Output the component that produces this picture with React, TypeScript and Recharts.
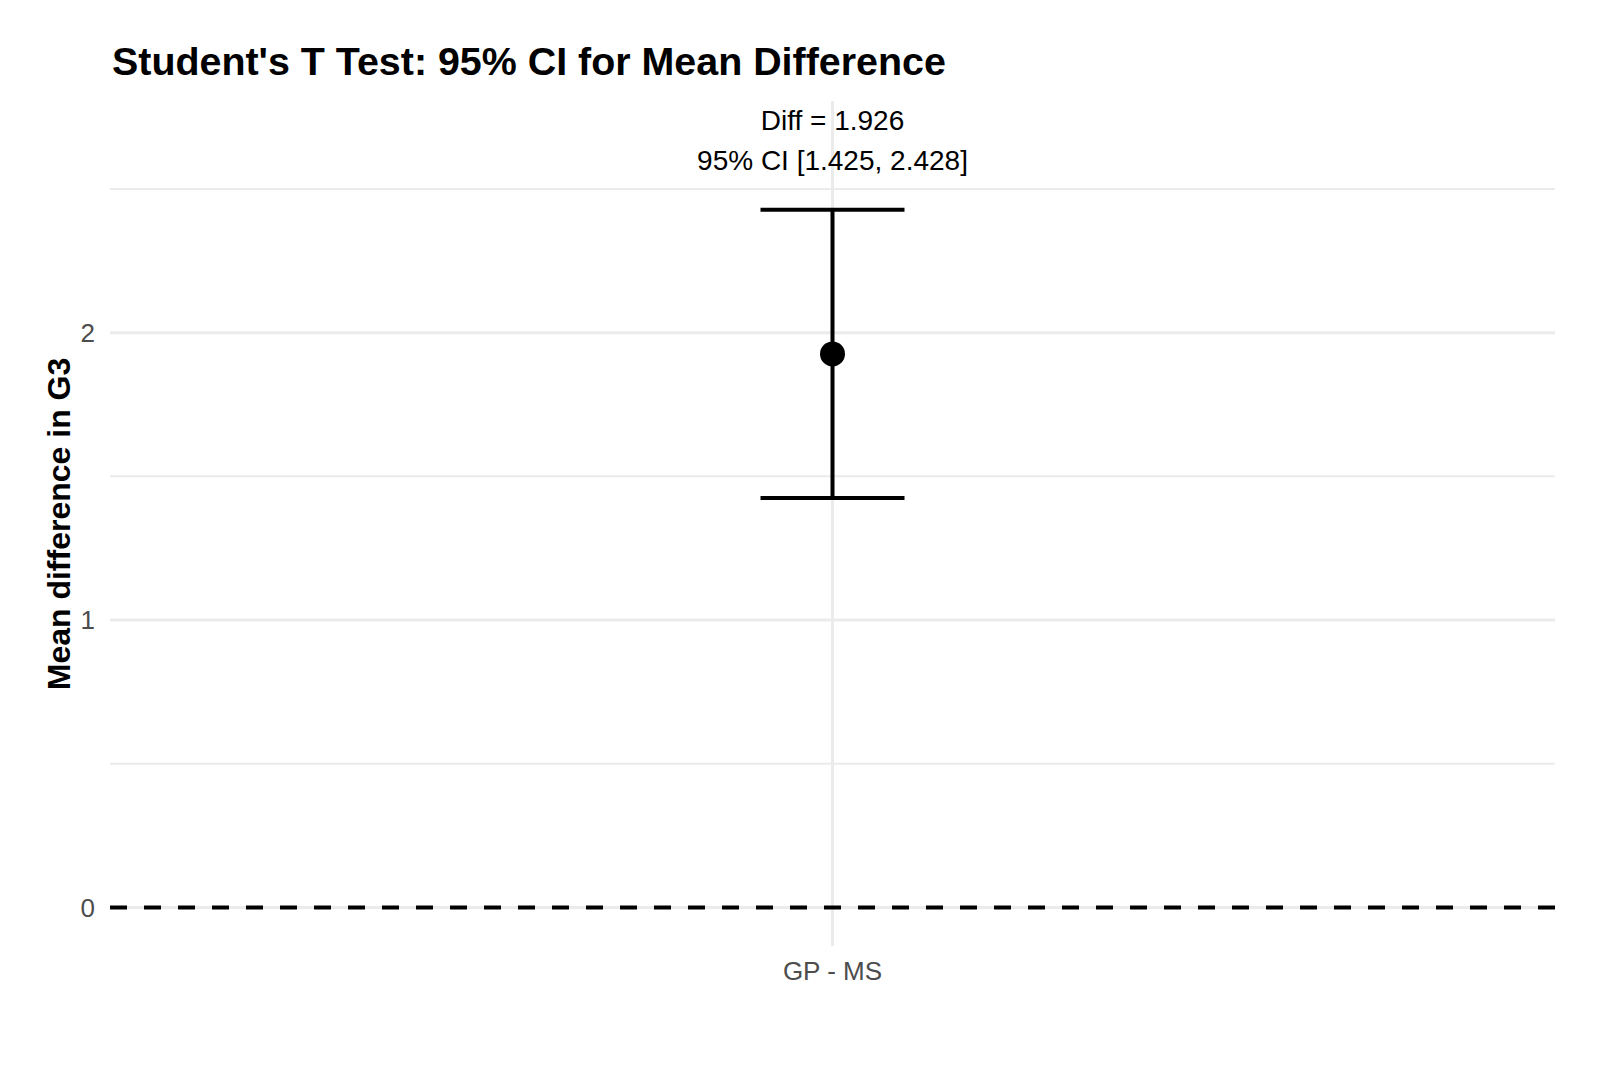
import {
  ComposedChart,
  Scatter,
  ErrorBar,
  XAxis,
  YAxis,
  CartesianGrid,
  ReferenceLine,
} from "recharts";

const groups = ["GP - MS"];
const meanDiff = [1.926];
const ciLower = [1.425];
const ciUpper = [2.428];
const yMajor = [0, 1, 2];
const yMinor = [0.5, 1.5, 2.5];
const labelY = 2.67;

const FONT = "'Liberation Sans', Arial, Helvetica, sans-serif";

const points = groups.map((g, i) => ({
  x: i,
  group: g,
  diff: meanDiff[i],
  err: [meanDiff[i] - ciLower[i], ciUpper[i] - meanDiff[i]],
}));

const labels = groups.map((g, i) => ({
  x: i,
  y: labelY,
  line1: `Diff = ${meanDiff[i].toFixed(3)}`,
  line2: `95% CI [${ciLower[i].toFixed(3)}, ${ciUpper[i].toFixed(3)}]`,
}));

const Dot = (props: any) => (
  <circle cx={props.cx} cy={props.cy} r={12.5} fill="#000" />
);

const Annotation = (props: any) => {
  const { cx, cy, payload } = props;
  return (
    <g fontFamily={FONT} fontSize={28} fill="#000">
      <text x={cx} y={cy - 20} textAnchor="middle" dominantBaseline="central">
        {payload.line1}
      </text>
      <text x={cx} y={cy + 20} textAnchor="middle" dominantBaseline="central">
        {payload.line2}
      </text>
    </g>
  );
};

const App = () => {
  return (
    <div
      style={{
        position: "absolute",
        left: 0,
        top: 0,
        width: 1600,
        height: 1067,
        background: "#fff",
      }}
    >
      <ComposedChart
        width={1600}
        height={1067}
        margin={{ top: 101, right: 45, bottom: 0, left: 0 }}
      >
        <CartesianGrid
          stroke="#EBEBEB"
          strokeWidth={3}
          horizontalValues={yMajor}
          verticalValues={[0]}
        />
        <CartesianGrid
          stroke="#EBEBEB"
          strokeWidth={2}
          vertical={false}
          horizontalValues={yMinor}
        />
        <XAxis
          type="number"
          dataKey="x"
          domain={[-0.6, 0.6]}
          ticks={groups.map((_, i) => i)}
          tickFormatter={(v: number) => groups[v] ?? ""}
          height={121}
          axisLine={false}
          tickLine={false}
          tickMargin={10}
          tick={{ fill: "#4D4D4D", fontSize: 26, fontFamily: FONT }}
        />
        <YAxis
          type="number"
          domain={[-0.134, 2.806]}
          ticks={yMajor}
          width={110}
          axisLine={false}
          tickLine={false}
          tickMargin={9}
          tick={{ fill: "#4D4D4D", fontSize: 26, fontFamily: FONT }}
        />
        <ReferenceLine
          y={0}
          stroke="#000"
          strokeWidth={4}
          strokeDasharray="17 17"
        />
        <Scatter
          data={points}
          dataKey="diff"
          shape={Dot}
          isAnimationActive={false}
        >
          <ErrorBar
            dataKey="err"
            direction="y"
            width={72}
            stroke="#000"
            strokeWidth={4}
          />
        </Scatter>
        <Scatter
          data={labels}
          dataKey="y"
          shape={Annotation}
          isAnimationActive={false}
        />
      </ComposedChart>
      <svg
        width={1600}
        height={1067}
        style={{ position: "absolute", left: 0, top: 0, pointerEvents: "none" }}
      >
        <text
          x={112}
          y={75}
          fontFamily={FONT}
          fontWeight="bold"
          fontSize={39.4}
          fill="#000"
        >
          Student's T Test: 95% CI for Mean Difference
        </text>
        <text
          x={70}
          y={524}
          transform="rotate(-90, 70, 524)"
          textAnchor="middle"
          fontFamily={FONT}
          fontWeight="bold"
          fontSize={32}
          fill="#000"
        >
          Mean difference in G3
        </text>
      </svg>
    </div>
  );
};

export default App;
